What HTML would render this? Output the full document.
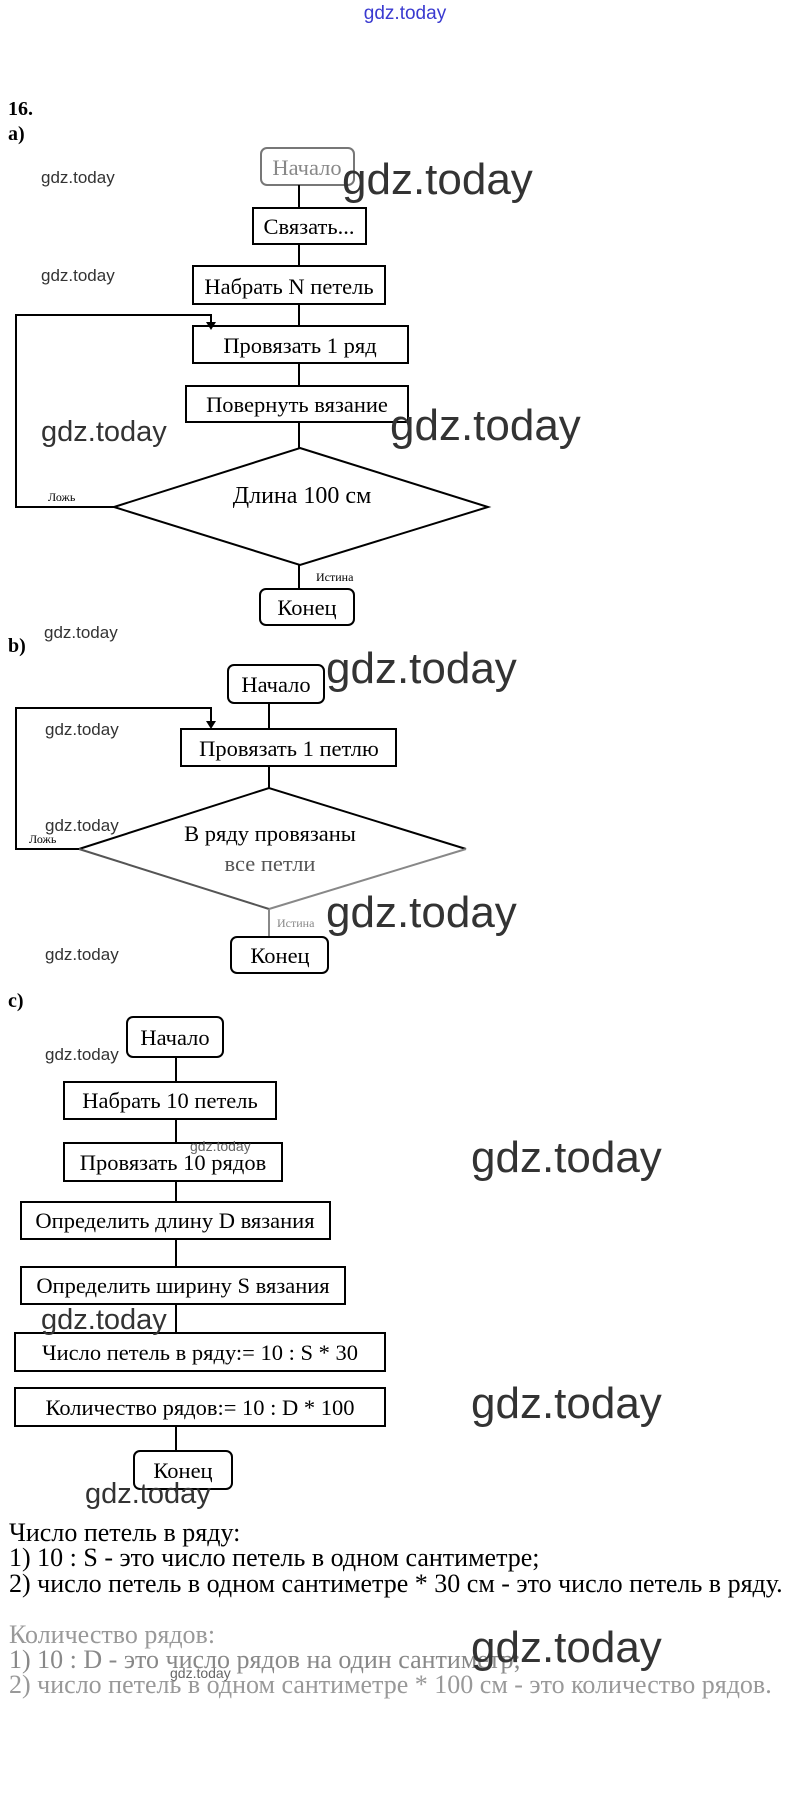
<!DOCTYPE html>
<html><head><meta charset="utf-8"><style>
html,body{margin:0;padding:0;background:#fff;}
svg{display:block}
.s{font-family:"Liberation Serif",serif;fill:#000}
.w{font-family:"Liberation Sans",sans-serif;fill:#333}
</style></head><body>
<svg width="808" height="1798" viewBox="0 0 808 1798" xmlns="http://www.w3.org/2000/svg">
<rect x="0" y="0" width="808" height="1798" fill="#fff"/>
<text x="405" y="19" text-anchor="middle" font-family="Liberation Sans,sans-serif" font-size="19" fill="#3a3ad0">gdz.today</text>

<g fill="none" stroke="#000" stroke-width="2">
<rect x="261" y="148" width="93" height="37" rx="6" stroke="#777"/>
<line x1="299" y1="185" x2="299" y2="208"/>
<rect x="253" y="208" width="113" height="36"/>
<line x1="299" y1="244" x2="299" y2="266"/>
<rect x="193" y="266" width="192" height="38"/>
<line x1="299" y1="304" x2="299" y2="326"/>
<rect x="193" y="326" width="215" height="37"/>
<line x1="299" y1="363" x2="299" y2="386"/>
<rect x="186" y="386" width="222" height="36"/>
<line x1="299" y1="422" x2="299" y2="448"/>
<polygon points="300,448 488,507 300,565 114,507"/>
<polyline points="114,507 16,507 16,315 211,315 211,323"/>
<line x1="299" y1="565" x2="299" y2="589"/>
<rect x="260" y="589" width="94" height="36" rx="6"/>
<rect x="228" y="665" width="96" height="38" rx="6"/>
<line x1="269" y1="703" x2="269" y2="729"/>
<rect x="181" y="729" width="215" height="37"/>
<line x1="269" y1="766" x2="269" y2="788"/>
<polyline points="79,849 269,788 466,849"/>
<polyline points="79,849 269,909" stroke="#555"/>
<polyline points="269,909 466,849" stroke="#888"/>
<polyline points="79,849 16,849 16,708 211,708 211,723"/>
<line x1="269" y1="909" x2="269" y2="937" stroke="#888"/>
<rect x="231" y="937" width="97" height="36" rx="6"/>
<rect x="127" y="1017" width="96" height="40" rx="6"/>
<line x1="176" y1="1057" x2="176" y2="1082"/>
<rect x="64" y="1082" width="212" height="37"/>
<line x1="176" y1="1119" x2="176" y2="1143"/>
<rect x="64" y="1143" width="218" height="38"/>
<line x1="176" y1="1181" x2="176" y2="1202"/>
<rect x="21" y="1202" width="309" height="37"/>
<line x1="176" y1="1239" x2="176" y2="1267"/>
<rect x="21" y="1267" width="324" height="37"/>
<line x1="176" y1="1304" x2="176" y2="1333"/>
<rect x="15" y="1333" width="370" height="38"/>
<rect x="15" y="1388" width="370" height="38"/>
<line x1="176" y1="1426" x2="176" y2="1451"/>
<rect x="134" y="1451" width="98" height="38" rx="6"/>
</g>
<polygon points="206,322 216,322 211,330" fill="#000"/>
<polygon points="206,721 216,721 211,729" fill="#000"/>

<g class="s" text-anchor="middle" font-size="22.5">
<text x="307" y="175" fill="#888">Начало</text>
<text x="309" y="234">Связать...</text>
<text x="289" y="294">Набрать N петель</text>
<text x="300" y="353">Провязать 1 ряд</text>
<text x="297" y="412">Повернуть вязание</text>
<text x="302" y="503" font-size="24">Длина 100 см</text>
<text x="307" y="615">Конец</text>
<text x="276" y="692">Начало</text>
<text x="289" y="756">Провязать 1 петлю</text>
<text x="270" y="841">В ряду провязаны</text>
<text x="270" y="871" fill="#555">все петли</text>
<text x="280" y="963">Конец</text>
<text x="175" y="1045">Начало</text>
<text x="170" y="1108">Набрать 10 петель</text>
<text x="173" y="1170">Провязать 10 рядов</text>
<text x="175" y="1228">Определить длину D вязания</text>
<text x="183" y="1293">Определить ширину S вязания</text>
<text x="200" y="1360">Число петель в ряду:= 10 : S * 30</text>
<text x="200" y="1415">Количество рядов:= 10 : D * 100</text>
<text x="183" y="1478">Конец</text>
</g>
<g class="s" font-size="12" fill="#333">
<text x="48" y="501">Ложь</text>
<text x="316" y="581">Истина</text>
<text x="29" y="843">Ложь</text>
<text x="277" y="927" fill="#888">Истина</text>
</g>
<g class="s" font-weight="bold" font-size="20">
<text x="8" y="115">16.</text>
<text x="8" y="140">a)</text>
<text x="8" y="652">b)</text>
<text x="8" y="1007">c)</text>
</g>
<g class="s" font-size="26" fill="#333">
<text x="9" y="1541">Число петель в ряду:</text>
<text x="9" y="1566">1) 10 : S - это число петель в одном сантиметре;</text>
<text x="9" y="1592">2) число петель в одном сантиметре * 30 см - это число петель в ряду.</text>
<text x="9" y="1643" fill="#999">Количество рядов:</text>
<text x="9" y="1668" fill="#888">1) 10 : D - это число рядов на один сантиметр;</text>
<text x="9" y="1693" fill="#999">2) число петель в одном сантиметре * 100 см - это количество рядов.</text>
</g>

<g class="w">
<text x="41" y="183" font-size="17">gdz.today</text>
<text x="41" y="281" font-size="17">gdz.today</text>
<text x="44" y="638" font-size="17">gdz.today</text>
<text x="45" y="735" font-size="17">gdz.today</text>
<text x="45" y="831" font-size="17">gdz.today</text>
<text x="45" y="960" font-size="17">gdz.today</text>
<text x="45" y="1060" font-size="17">gdz.today</text>
<text x="190" y="1151" font-size="14" fill="#666">gdz.today</text>
<text x="170" y="1678" font-size="14" fill="#666">gdz.today</text>
<text x="41" y="441" font-size="29">gdz.today</text>
<text x="41" y="1329" font-size="29">gdz.today</text>
<text x="85" y="1503" font-size="29">gdz.today</text>
<text x="342" y="194" font-size="44">gdz.today</text>
<text x="390" y="440" font-size="44">gdz.today</text>
<text x="326" y="683" font-size="44">gdz.today</text>
<text x="326" y="927" font-size="44">gdz.today</text>
<text x="471" y="1172" font-size="44">gdz.today</text>
<text x="471" y="1418" font-size="44">gdz.today</text>
<text x="471" y="1662" font-size="44">gdz.today</text>
</g>
</svg>
</body></html>
